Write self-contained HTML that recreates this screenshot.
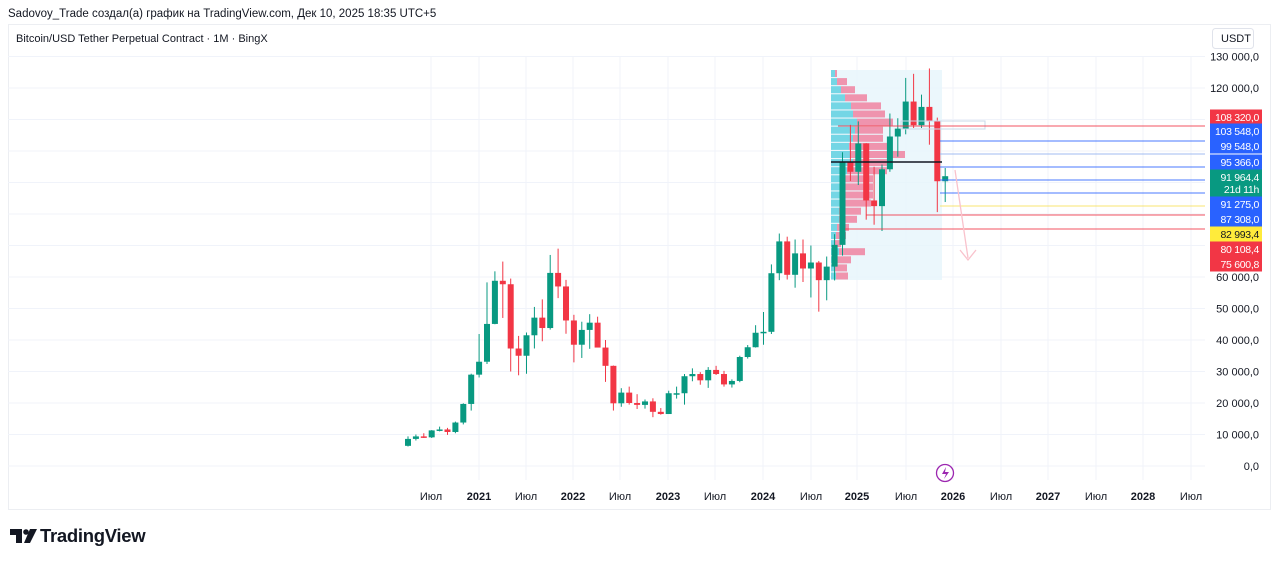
<!DOCTYPE html>
<html><head><meta charset="utf-8"><style>
body{margin:0;width:1280px;height:562px;background:#fff;overflow:hidden;font-family:"Liberation Sans",sans-serif}
svg{position:absolute;left:0;top:0}
</style></head><body>
<svg id="s" width="1280" height="562" xmlns="http://www.w3.org/2000/svg" font-family="Liberation Sans, sans-serif">
<text x="8" y="17" font-size="11.5" fill="#131722">Sadovoy_Trade создал(а) график на TradingView.com, Дек 10, 2025 18:35 UTC+5</text>
<rect x="8.5" y="24.5" width="1262" height="485" fill="none" stroke="#eceef2"/>
<text x="16" y="42" font-size="11" fill="#131722">Bitcoin/USD Tether Perpetual Contract · 1M · BingX</text>
<rect x="1212.5" y="28.5" width="41" height="20" rx="3" fill="#fff" stroke="#e0e3eb"/>
<text x="1221" y="42" font-size="11" fill="#131722">USDT</text>
<g id="g"></g>
<path d="M10 529 H22 V543 H16 V535 H10 Z" fill="#131722"/><circle cx="26" cy="532" r="2.8" fill="#131722"/><path d="M30 529 H37 L30 543 H24 Z" fill="#131722"/>
<text x="40" y="542" font-size="18.5" font-weight="bold" fill="#131722" letter-spacing="-0.3">TradingView</text>
</svg>
<script>
const g=document.getElementById('g');let h='';
const Y=p=>466-3.15*p;
const xs=[431,479,526,573,620,668,715,763,811,857,906,953,1001,1048,1096,1143,1191];
const lb=['Июл','2021','Июл','2022','Июл','2023','Июл','2024','Июл','2025','Июл','2026','Июл','2027','Июл','2028','Июл'];
xs.forEach((x,i)=>{h+=`<line x1="${x}" y1="56" x2="${x}" y2="480" stroke="#f0f3fa"/>`;h+=`<text x="${x}" y="500" font-size="11" text-anchor="middle" fill="#131722" ${lb[i]=='Июл'?'':'font-weight="bold"'}>${lb[i]}</text>`});
for(let p=0;p<=130;p+=10){const y=Y(p);h+=`<line x1="8" y1="${y}" x2="1205" y2="${y}" stroke="#f0f3fa"/>`;if(![70,80,90,100,110].includes(p))h+=`<text x="1259" y="${y+4}" font-size="11" text-anchor="end" fill="#131722">${p?p+' 000,0':'0,0'}</text>`;}
h+=`<rect x="831" y="70" width="111" height="210" fill="#e6f5fb" opacity="0.8"/>`;
const vp=[[4,2],[6,10],[10,14],[14,22],[20,30],[22,32],[26,36],[24,28],[22,30],[18,38],[20,54],[22,38],[16,40],[14,28],[12,30],[14,28],[10,30],[8,22],[8,18],[6,12],[5,10],[4,6],[8,26],[6,14],[4,12],[5,12]];
vp.forEach((v,i)=>{const y=70+i*8.1;h+=`<rect x="831" y="${y}" width="${v[0]}" height="7" fill="#5fd0e0" opacity=".85"/><rect x="${831+v[0]}" y="${y}" width="${v[1]}" height="7" fill="#f07a9a" opacity=".8"/>`});
const d=[[6.4,9.4,6.2,8.6],[8.6,10,8.1,9.4],[9.4,10.4,8.9,9.1],[9.1,11.4,8.9,11.3],[11.3,12.5,11,11.6],[11.6,12.1,9.9,10.8],[10.8,14.1,10.4,13.8],[13.8,19.9,13.2,19.7],[19.7,29.3,17.6,29],
[29,41.9,28.1,33.1],[33.1,58.3,32.4,45.1],[45.1,61.8,45,58.8],[58.8,64.9,47,57.7],[57.7,59.5,30,37.3],[37.3,41.3,28.8,35],[35,42.4,29.3,41.5],[41.5,50.5,37.3,47.1],[47.1,52.9,39.6,43.8],[43.8,67,43.3,61.3],[61.3,69,53.3,57],[57,59.1,42,46.2],
[46.2,48,32.9,38.5],[38.5,45.8,34.3,43.2],[43.2,48.2,37.2,45.5],[45.5,47.4,37.7,37.6],[37.6,40,26.7,31.8],[31.8,31.9,17.6,19.9],[19.9,24.7,18.8,23.3],[23.3,25.2,19.5,20],[20,22.8,18.1,19.4],[19.4,21.1,18.2,20.5],[20.5,21.5,15.5,17.2],[17.2,18.4,16.3,16.5],
[16.5,23.9,16.5,23.1],[23.1,25.2,21.4,23.1],[23.1,29.2,19.5,28.5],[28.5,31,26.9,29.2],[29.2,29.8,25.8,27.2],[27.2,31.4,24.8,30.5],[30.5,31.8,28.9,29.2],[29.2,30.2,25.2,25.9],[25.9,27.5,24.9,27],[27,35,26.6,34.6],[34.6,38.4,34.1,37.7],[37.7,44.7,37.6,42.3],
[42.3,48.9,38.5,42.6],[42.6,64,41.9,61.2],[61.2,73.8,59,71.3],[71.3,72.8,59.2,60.7],[60.7,71.9,56.6,67.5],[67.5,71.9,58.4,62.7],[62.7,70,53.5,64.6],[64.6,65.1,49,59],[59,66.5,52.6,63.3],[63.3,73.6,58.9,70.2],[70.2,99.6,66.8,96.4],[96.4,108.3,90.5,93.4],
[93.4,109.4,89.2,102.4],[102.4,102.5,78.2,84.3],[84.3,95,76.6,82.5],[82.5,95.7,74.6,94.2],[94.2,111.9,93.4,104.6],[104.6,110.4,98.2,107.1],[107.1,123.2,105.3,115.7],[115.7,124.5,107.3,108.2],[108.2,117.9,107.3,114],[114,126.2,102,109.6],[109.6,110.6,80.6,90.4],[90.4,94.6,83.8,92]];
d.forEach((c,i)=>{const x=408+i*7.9;const up=c[3]>=c[0];const col=up?'#089981':'#f23645';const t=Y(Math.max(c[0],c[3])),b=Y(Math.min(c[0],c[3]));
h+=`<line x1="${x}" y1="${Y(c[1])}" x2="${x}" y2="${Y(c[2])}" stroke="${col}" stroke-width="1"/><rect x="${x-3}" y="${t}" width="6" height="${Math.max(b-t,1.5)}" fill="${col}"/>`});
h+=`<line x1="831" y1="162" x2="942" y2="162" stroke="#131722" stroke-width="1.5"/>`;
h+=`<rect x="901" y="121" width="84" height="8" fill="none" stroke="#c8d8e8"/>`;
[[126,'#f23645',838],[141,'#2962ff',940],[154,'#90b0f0',940],[167,'#2962ff',940],[180,'#2962ff',940],[193,'#2962ff',940],[206,'#f7e15a',940],[215,'#f23645',866],[229,'#f23645',845]].forEach(l=>h+=`<line x1="${l[2]}" y1="${l[0]}" x2="1205" y2="${l[0]}" stroke="${l[1]}" stroke-width="1" opacity=".85"/>`);
h+=`<path d="M955 170 L968 258 M960 250 L968 260 L976 250" stroke="#f9c2cc" fill="none" stroke-width="1.3"/>`;
[[117,'#f23645','108 320,0','#fff'],[131,'#2962ff','103 548,0','#fff'],[146,'#2962ff','99 548,0','#fff'],[162,'#2962ff','95 366,0','#fff'],[177,'#089981','91 964,4','#fff'],[189,'#089981','21d 11h','#fff'],[204,'#2962ff','91 275,0','#fff'],[219,'#2962ff','87 308,0','#fff'],[234,'#ffeb3b','82 993,4','#131722'],[249,'#f23645','80 108,4','#fff'],[264,'#f23645','75 600,8','#fff']].forEach(l=>{h+=`<rect x="1210" y="${l[0]-7.5}" width="52" height="15" fill="${l[1]}"/><text x="1259" y="${l[0]+4}" font-size="10.5" letter-spacing="-0.3" text-anchor="end" fill="${l[3]}">${l[2]}</text>`});
h+=`<circle cx="945" cy="473" r="8.5" fill="#fff" stroke="#9c27b0" stroke-width="1.3"/><path d="M946 467 L942 474 L946 474 L944 479 L949 472 L945 472 Z" fill="#9c27b0"/>`;
g.innerHTML=h;
</script>
</body></html>
